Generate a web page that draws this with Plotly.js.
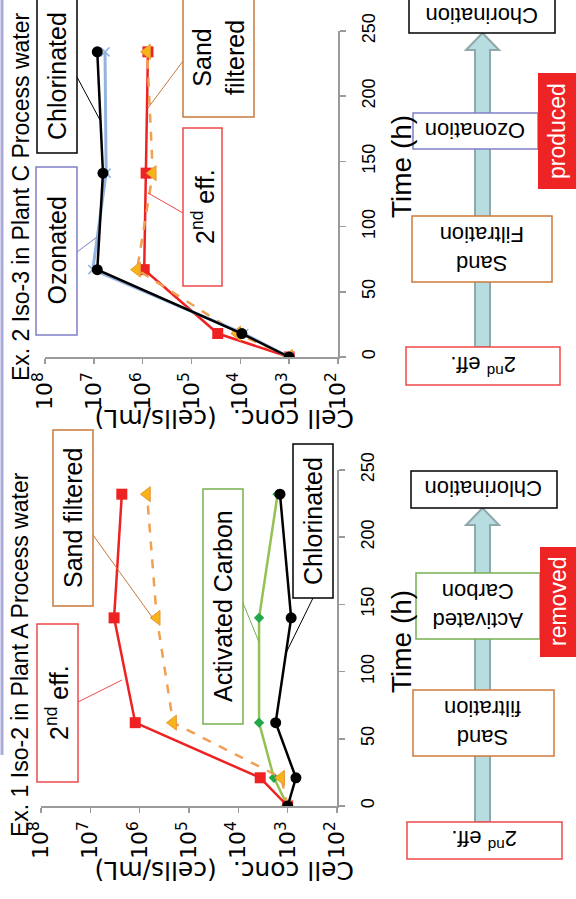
<!DOCTYPE html>
<html>
<head>
<meta charset="utf-8">
<script src="https://cdn.plot.ly/plotly-3.0.1.min.js"></script>
<style>html,body{margin:0;padding:0;background:#fff;}#chart{width:576px;height:899px;}</style>
</head>
<body>
<div id="chart"></div>
<script>
// ---------- DATA ----------
// Ex. 1: Iso-2 in Plant A process water
const p1Time = [0, 21, 62, 140, 232];
const p1SecondEff = [1000, 3600, 1.23e6, 3.3e6, 2.3e6];
const p1SandFiltered = [1000, 1350, 2.1e5, 4.5e5, 7.1e5];
const p1ActivatedCarbon = [1000, 1900, 3800, 3800, 1600];
const p1Chlorinated = [1000, 680, 1750, 850, 1430];

// Ex. 2: Iso-3 in Plant C process water
const p2Time = [0, 18, 67, 141, 234];
const p2SecondEff = [1000, 2.9e4, 9.3e5, 8.5e5, 7.8e5];
const p2SandFiltered = [1000, 1.15e4, 1.3e6, 6.2e5, 8.1e5];
const p2Ozonated = [1000, 8500, 1.05e7, 5.6e6, 5.9e6];
const p2Chlorinated = [1000, 9300, 8.5e6, 6.5e6, 8.5e6];

const concTickVals = [1e2, 1e3, 1e4, 1e5, 1e6, 1e7, 1e8];
const concTickText = ['10<sup>2</sup>', '10<sup>3</sup>', '10<sup>4</sup>', '10<sup>5</sup>', '10<sup>6</sup>', '10<sup>7</sup>', '10<sup>8</sup>'];
const timeTickVals = [0, 50, 100, 150, 200, 250];

const titles = ['Ex. 1 Iso-2 in Plant A Process water', 'Ex. 2 Iso-3 in Plant C Process water'];
const concTitle = 'Cell conc.  (cells/mL)';
const timeTitle = 'Time (h)';

// ---------- HELPERS ----------
const W = 576, H = 899;
const px = x => x / W;
const py = y => 1 - y / H;
const ARIAL = 'Liberation Sans, Arial, sans-serif';
const DEJA = 'DejaVu Sans, sans-serif';
const RED = '#ee2222', ORANGE = '#f0a050', TRI = '#f6b418', BLACK = '#000000', BLUE = '#93b4de', GREEN = '#93c152', DGREEN = '#22a84a';

function ann(text, x, y, size, angle, color, family) {
  return {xref: 'paper', yref: 'paper', x: px(x), y: py(y), text: text, showarrow: false,
    textangle: angle, font: {size: size, color: color || '#000', family: family || ARIAL},
    xanchor: 'center', yanchor: 'middle'};
}
function box(x0, y0, x1, y1, color, fill, width) {
  return {type: 'rect', xref: 'paper', yref: 'paper', x0: px(x0), x1: px(x1), y0: py(y1), y1: py(y0),
    line: {color: color, width: width === undefined ? 1.5 : width}, fillcolor: fill || '#ffffff', layer: 'above'};
}
function seg(x0, y0, x1, y1, color, width) {
  return {type: 'line', xref: 'paper', yref: 'paper', x0: px(x0), x1: px(x1), y0: py(y0), y1: py(y1),
    line: {color: color, width: width || 1}, layer: 'above'};
}
function arrow(xl, xr, bottom, headBase, apex) {
  const hl = xl - 9, hr = xr + 9, mid = (xl + xr) / 2;
  const pts = [[xl, bottom], [xl, headBase], [hl, headBase], [mid, apex], [hr, headBase], [xr, headBase], [xr, bottom]];
  const path = 'M ' + pts.map(p => px(p[0]) + ',' + py(p[1])).join(' L ') + ' Z';
  return {type: 'path', xref: 'paper', yref: 'paper', path: path, fillcolor: '#b7dde1', line: {color: '#8fa9aa', width: 2}, layer: 'above'};
}

function line(x, y, xa, ya, color, width, dash, symbol, msize, mcolor, mline) {
  return {x: y, y: x, xaxis: xa, yaxis: ya, type: 'scatter', mode: 'lines+markers', showlegend: false,
    hoverinfo: 'skip',
    line: {color: color, width: width, dash: dash || 'solid'},
    marker: {symbol: symbol, size: msize, color: mcolor || color, line: mline || {width: 0}}};
}

// ---------- TRACES (x = concentration, y = time; figure is turned on its side) ----------
const traces = [
  // panel 1 (bottom)
  line(p1Time, p1ActivatedCarbon, 'x', 'y', GREEN, 2.5, 'solid', 'diamond', 8, DGREEN),
  line(p1Time, p1SecondEff, 'x', 'y', RED, 2.5, 'solid', 'square', 11, RED),
  line(p1Time, p1SandFiltered, 'x', 'y', ORANGE, 2.5, 'dash', 'triangle-left', 13, TRI, {color: '#e8963a', width: 1}),
  line(p1Time, p1Chlorinated, 'x', 'y', BLACK, 2.5, 'solid', 'circle', 11, BLACK),
  // panel 2 (top)
  line(p2Time, p2SecondEff, 'x2', 'y2', RED, 2.5, 'solid', 'square', 11, RED),
  line(p2Time, p2SandFiltered, 'x2', 'y2', ORANGE, 2.5, 'dash', 'triangle-left', 13, TRI, {color: '#e8963a', width: 1}),
  line(p2Time, p2Ozonated, 'x2', 'y2', BLUE, 3, 'solid', 'x-thin-open', 9, BLUE, {color: BLUE, width: 1.5}),
  line(p2Time, p2Chlorinated, 'x2', 'y2', BLACK, 2.5, 'solid', 'circle', 11, BLACK)
];

function xAxis(d0, d1, anchor) {
  return {domain: [px(d0), px(d1)], anchor: anchor, type: 'log', range: [8, 2], autorange: false,
    tickmode: 'array', tickvals: concTickVals, ticktext: concTickText, tickangle: -90,
    ticks: 'outside', ticklen: 5, tickcolor: '#9a9a9a', tickwidth: 1.5,
    showline: true, linecolor: '#9a9a9a', linewidth: 1.5, showgrid: false, zeroline: false,
    tickfont: {family: DEJA, size: 22, color: '#000'}, ticklabelstandoff: 0};
}
function yAxis(top, bottom, anchor) {
  return {domain: [py(bottom), py(top)], anchor: anchor, side: 'right', range: [0, 250], autorange: false,
    tickmode: 'array', tickvals: timeTickVals, tickangle: -90,
    ticks: 'outside', ticklen: 6, tickcolor: '#9a9a9a', tickwidth: 1.5,
    showline: true, linecolor: '#9a9a9a', linewidth: 1.5, showgrid: false, zeroline: false,
    tickfont: {family: ARIAL, size: 18, color: '#000'}, ticklabelstandoff: 8};
}

const shapes = [
  // left lavender edge
  seg(2, 0, 2, 755, '#aaaadc', 3),
  // ---- panel 2 callouts ----
  box(36, 167, 77, 335, '#7f7fc8'), seg(77, 252, 97, 237, '#7f7fc8'),
  box(37, -3, 77, 153, '#000000'), seg(77, 77, 100, 120, '#000000'),
  box(183, 128, 222, 286, '#f04848'), seg(183, 213, 148, 193, '#f04848'),
  box(183, -3, 254, 117, '#c8783a'), seg(183, 61, 148, 108, '#c8783a'),
  // ---- panel 1 callouts ----
  box(37, 624, 78, 782, '#f04848'), seg(78, 702, 122, 680, '#f04848'),
  box(53, 430, 93, 606, '#c8783a'), seg(93, 535, 152, 617, '#c8783a'),
  box(203, 489, 243, 724, '#77b050'), seg(243, 603, 259, 642, '#77b050'),
  box(293, 444, 333, 598, '#000000'), seg(313, 598, 286, 653, '#000000'),
  // ---- panel 2 process flow ----
  arrow(475, 490, 347, 50, 33),
  box(409, -3, 555, 33, '#000000'),
  box(413, 113, 538, 149, '#8080c8'),
  box(538, 73, 580, 189, '#ee2424', '#ee2424', 0),
  box(412, 216, 552, 282, '#d07a3a'),
  box(406, 347, 560, 385, '#f04848'),
  // ---- panel 1 process flow ----
  arrow(475, 490, 822, 525, 508),
  box(411, 471, 557, 508, '#000000'),
  box(416, 573, 540, 639, '#77b050'),
  box(540, 547, 580, 657, '#ee2424', '#ee2424', 0),
  box(413, 690, 554, 756, '#d07a3a'),
  box(407, 822, 562, 859, '#f04848')
];

const annotations = [
  // titles
  ann(titles[0], 20, 655, 23, -90),
  ann(titles[1], 21, 197, 23, -90),
  // axis titles
  ann(concTitle, 225, 871, 25, 180, '#000', DEJA),
  ann(concTitle, 225, 419, 25, 180, '#000', DEJA),
  ann(timeTitle, 401, 642, 28, -90),
  ann(timeTitle, 401, 167, 28, -90),
  // panel 2 callouts
  ann('Ozonated', 56.5, 251, 25, -90),
  ann('Chlorinated', 57, 76, 25, -90),
  ann('2<sup>nd</sup> eff.', 203, 207, 25, -90),
  ann('Sand<br>filtered', 219, 58, 25, -90),
  // panel 1 callouts
  ann('2<sup>nd</sup> eff.', 57, 703, 25, -90),
  ann('Sand filtered', 73, 518, 25, -90),
  ann('Activated Carbon', 223, 606, 25, -90),
  ann('Chlorinated', 313, 521, 25, -90),
  // panel 2 flow
  ann('Chorination', 482, 16, 22, 180),
  ann('Ozonation', 475, 131, 22, 180),
  ann('produced', 557, 131, 23, -90, '#ffffff'),
  ann('Sand<br>Filtration', 482, 249, 22, 180),
  ann('2<sup>nd</sup> eff.', 483, 366, 22, 180),
  // panel 1 flow
  ann('Chlorination', 484, 489, 22, 180),
  ann('Activated<br>Carbon', 478, 606, 22, 180),
  ann('removed', 558, 602, 23, -90, '#ffffff'),
  ann('Sand<br>filtration', 483, 723, 22, 180),
  ann('2<sup>nd</sup> eff.', 484, 840, 22, 180)
];

const layout = {
  width: W, height: H,
  margin: {l: 0, r: 0, t: 0, b: 0},
  paper_bgcolor: '#ffffff', plot_bgcolor: 'rgba(0,0,0,0)',
  showlegend: false,
  xaxis: xAxis(41, 337, 'y'),
  yaxis: yAxis(470, 806, 'x'),
  xaxis2: xAxis(45, 338, 'y2'),
  yaxis2: yAxis(31, 357, 'x2'),
  shapes: shapes,
  annotations: annotations,
  font: {family: ARIAL, color: '#000'}
};

Plotly.newPlot('chart', traces, layout, {staticPlot: true, displayModeBar: false});
</script>
</body>
</html>
